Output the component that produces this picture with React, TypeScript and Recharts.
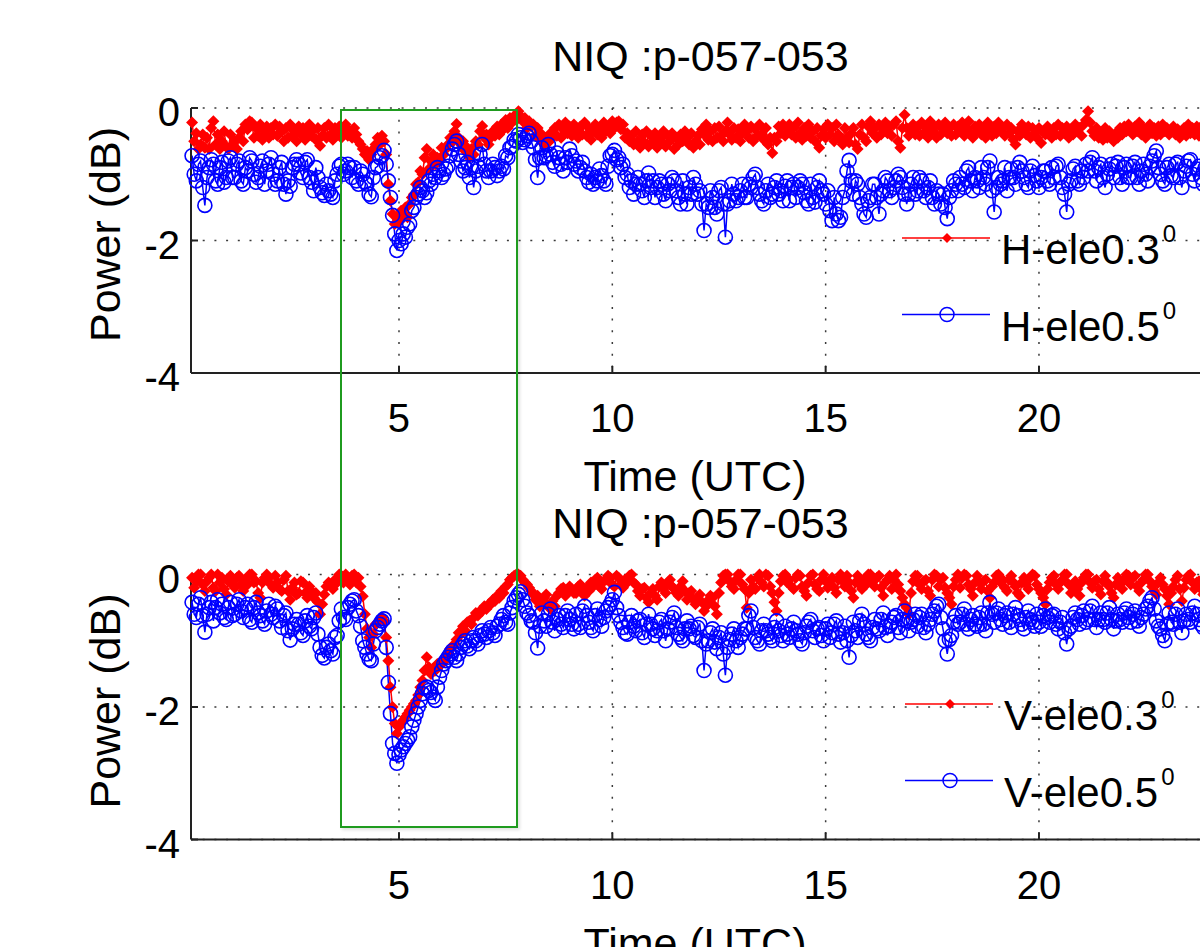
import React from 'react'
import { LineChart, Line, XAxis, YAxis, CartesianGrid, Legend } from 'recharts'

const FONT = '"Liberation Sans", Arial, Helvetica, sans-serif'

// samples every 0.05 h starting at 0.15 h (20 per row = one hour)
const T0 = 0.15
const STEP = 0.05

const H_03 = [
  -0.22, -0.5, -0.38, -0.62, -0.55, -0.4, -0.6, -0.45, -0.62, -0.3, -0.2, -0.55, -0.4, -0.62, -0.5, -0.35, -0.58, -0.62, -0.4, -0.55,
  -0.5, -0.62, -0.45, -0.35, -0.5, -0.25, -0.32, -0.2, -0.22, -0.45, -0.3, -0.42, -0.25, -0.48, -0.35, -0.28, -0.45, -0.3, -0.4, -0.25,
  -0.42, -0.28, -0.35, -0.5, -0.3, -0.45, -0.25, -0.42, -0.35, -0.5, -0.28, -0.4, -0.3, -0.48, -0.38, -0.25, -0.42, -0.33, -0.48, -0.3,
  -0.57, -0.42, -0.3, -0.45, -0.25, -0.4, -0.48, -0.3, -0.4, -0.28, -0.45, -0.32, -0.25, -0.42, -0.35, -0.45, -0.3, -0.4, -0.5, -0.55,
  -0.62, -0.7, -0.65, -0.78, -0.7, -0.62, -0.55, -0.45, -0.55, -0.42, -0.5, -0.7, -1.15, -1.4, -1.6, -1.75, -1.65, -1.72, -1.55, -1.62,
  -1.5, -1.65, -1.45, -1.35, -1.3, -1.15, -1.12, -0.95, -1.0, -0.75, -0.62, -0.92, -0.8, -0.7, -0.85, -0.75, -0.8, -0.6, -0.7, -0.62,
  -0.55, -0.45, -0.5, -0.35, -0.24, -0.45, -0.55, -0.5, -0.65, -0.6, -0.75, -0.62, -0.7, -0.5, -0.55, -0.35, -0.27, -0.45, -0.4, -0.55,
  -0.45, -0.35, -0.42, -0.28, -0.4, -0.25, -0.32, -0.18, -0.3, -0.15, -0.22, -0.12, -0.18, -0.05, -0.12, -0.2, -0.15, -0.3, -0.2, -0.28,
  -0.25, -0.42, -0.3, -0.48, -0.4, -0.55, -0.45, -0.52, -0.38, -0.45, -0.3, -0.42, -0.25, -0.45, -0.32, -0.22, -0.38, -0.28, -0.42, -0.25,
  -0.35, -0.45, -0.28, -0.4, -0.22, -0.42, -0.3, -0.48, -0.35, -0.25, -0.4, -0.3, -0.45, -0.22, -0.35, -0.28, -0.38, -0.2, -0.3, -0.22,
  -0.2, -0.32, -0.25, -0.45, -0.38, -0.5, -0.42, -0.55, -0.35, -0.5, -0.6, -0.4, -0.52, -0.35, -0.58, -0.42, -0.5, -0.38, -0.6, -0.45,
  -0.5, -0.35, -0.58, -0.42, -0.5, -0.38, -0.62, -0.45, -0.55, -0.4, -0.5, -0.35, -0.45, -0.55, -0.38, -0.6, -0.5, -0.42, -0.55, -0.32,
  -0.4, -0.25, -0.48, -0.35, -0.5, -0.3, -0.45, -0.28, -0.42, -0.5, -0.35, -0.22, -0.4, -0.48, -0.3, -0.45, -0.32, -0.5, -0.38, -0.25,
  -0.35, -0.45, -0.28, -0.5, -0.32, -0.42, -0.25, -0.4, -0.48, -0.3, -0.55, -0.45, -0.68, -0.45, -0.5, -0.28, -0.38, -0.25, -0.42, -0.3,
  -0.25, -0.4, -0.3, -0.45, -0.22, -0.38, -0.48, -0.3, -0.42, -0.25, -0.45, -0.35, -0.5, -0.3, -0.6, -0.42, -0.32, -0.45, -0.25, -0.4,
  -0.3, -0.5, -0.25, -0.4, -0.48, -0.55, -0.3, -0.45, -0.52, -0.38, -0.3, -0.55, -0.62, -0.4, -0.25, -0.45, -0.5, -0.28, -0.2, -0.38,
  -0.3, -0.45, -0.25, -0.4, -0.32, -0.22, -0.38, -0.28, -0.42, -0.25, -0.2, -0.5, -0.6, -0.3, -0.1, -0.3, -0.42, -0.35, -0.25, -0.4,
  -0.28, -0.42, -0.22, -0.38, -0.3, -0.45, -0.2, -0.35, -0.28, -0.45, -0.25, -0.4, -0.32, -0.22, -0.38, -0.3, -0.42, -0.25, -0.4, -0.28,
  -0.35, -0.22, -0.42, -0.3, -0.2, -0.38, -0.45, -0.28, -0.35, -0.25, -0.4, -0.3, -0.45, -0.22, -0.35, -0.42, -0.28, -0.38, -0.22, -0.32,
  -0.3, -0.42, -0.25, -0.38, -0.3, -0.48, -0.55, -0.35, -0.42, -0.25, -0.32, -0.4, -0.28, -0.45, -0.3, -0.38, -0.45, -0.3, -0.53, -0.35,
  -0.4, -0.28, -0.35, -0.45, -0.3, -0.4, -0.25, -0.42, -0.3, -0.38, -0.28, -0.45, -0.32, -0.4, -0.25, -0.35, -0.3, -0.42, -0.25, -0.18,
  -0.05, -0.22, -0.35, -0.42, -0.3, -0.45, -0.38, -0.48, -0.3, -0.45, -0.35, -0.4, -0.5, -0.38, -0.45, -0.3, -0.4, -0.28, -0.35, -0.25,
  -0.32, -0.4, -0.28, -0.35, -0.22, -0.4, -0.3, -0.45, -0.35, -0.25, -0.38, -0.3, -0.42, -0.28, -0.4, -0.25, -0.35, -0.3, -0.4, -0.32,
  -0.28, -0.4, -0.32, -0.45, -0.38, -0.3, -0.42, -0.25, -0.38, -0.3, -0.4, -0.28, -0.42, -0.3, -0.25, -0.38, -0.3, -0.42, -0.28, -0.35,
]

const H_05 = [
  -0.72, -1.0, -1.1, -0.85, -0.8, -1.2, -1.47, -1.05, -0.9, -0.78, -0.85, -1.1, -1.15, -0.9, -0.82, -1.12, -1.05, -0.8, -0.75, -1.05,
  -1.05, -0.85, -0.8, -1.1, -1.15, -0.9, -0.95, -0.75, -0.8, -1.0, -1.12, -1.05, -0.88, -0.8, -1.15, -0.95, -0.85, -0.75, -1.0, -1.15,
  -1.1, -0.9, -0.82, -1.15, -1.3, -1.1, -1.18, -0.9, -0.85, -0.78, -0.85, -0.98, -1.05, -0.82, -0.78, -1.05, -1.12, -1.25, -0.9, -1.05,
  -1.2, -1.28, -1.32, -1.15, -1.25, -1.3, -1.35, -1.1, -1.0, -0.88, -0.85, -1.0, -0.95, -0.85, -0.9, -1.05, -0.9, -1.1, -1.15, -0.95,
  -1.0, -1.12, -1.15, -1.3, -1.34, -1.05, -0.9, -0.88, -0.75, -0.72, -0.64, -0.85, -1.1, -1.35, -1.62, -1.9, -2.15, -2.0, -2.05, -1.9,
  -1.95, -1.8, -1.75, -1.55, -1.5, -1.35, -1.3, -1.2, -1.25, -1.35, -1.28, -1.1, -1.15, -1.0, -1.05, -0.9, -0.95, -1.05, -1.0, -0.92,
  -0.88, -0.72, -0.62, -0.55, -0.5, -0.7, -0.8, -0.95, -0.9, -0.82, -1.05, -0.9, -1.2, -0.95, -0.88, -0.7, -0.55, -0.85, -0.95, -1.05,
  -0.95, -0.85, -0.9, -1.02, -0.95, -0.88, -0.92, -0.72, -0.75, -0.6, -0.58, -0.48, -0.5, -0.4, -0.45, -0.52, -0.48, -0.42, -0.38, -0.5,
  -0.6, -0.78, -1.05, -0.75, -0.6, -0.75, -0.72, -0.55, -0.7, -0.82, -0.88, -0.68, -0.75, -0.85, -0.95, -0.75, -0.82, -0.62, -0.72, -0.85,
  -0.8, -0.95, -0.9, -0.82, -0.95, -1.05, -1.12, -1.0, -1.15, -1.05, -1.1, -0.92, -1.02, -1.1, -1.15, -0.88, -0.72, -0.7, -0.64, -0.78,
  -0.75, -0.9, -0.85, -1.05, -1.0, -1.2, -1.1, -1.3, -1.15, -1.05, -1.15, -1.25, -1.35, -1.1, -0.98, -1.2, -1.1, -1.35, -1.2, -1.1,
  -1.15, -1.3, -1.4, -1.15, -1.25, -1.05, -1.1, -1.25, -1.35, -1.45, -1.1, -1.3, -1.45, -1.2, -1.3, -1.05, -1.15, -1.3, -1.25, -1.45,
  -1.85, -1.45, -1.5, -1.25, -1.35, -1.5, -1.6, -1.25, -1.2, -1.45, -1.95, -1.45, -1.4, -1.15, -1.3, -1.4, -1.35, -1.25, -1.15, -1.35,
  -1.35, -1.15, -1.2, -1.05, -1.0, -1.2, -1.3, -1.4, -1.45, -1.25, -1.15, -1.35, -1.3, -1.2, -1.1, -1.3, -1.25, -1.4, -1.18, -1.1,
  -1.4, -1.2, -1.15, -1.35, -1.2, -1.1, -1.15, -1.28, -1.4, -1.45, -1.15, -1.35, -1.42, -1.2, -1.1, -1.25, -1.3, -1.45, -1.25, -1.55,
  -1.7, -1.35, -1.6, -1.7, -1.65, -1.35, -1.25, -0.95, -0.79, -1.1, -1.3, -1.1, -1.15, -1.35, -1.45, -1.6, -1.65, -1.4, -1.35, -1.15,
  -1.15, -1.35, -1.6, -1.3, -1.25, -1.05, -1.1, -1.25, -1.35, -1.2, -1.1, -1.0, -1.05, -1.2, -1.3, -1.45, -1.3, -1.15, -1.05, -1.3,
  -1.25, -1.05, -1.1, -1.25, -1.35, -1.2, -1.1, -1.35, -1.45, -1.25, -1.3, -1.45, -1.3, -1.5, -1.67, -1.35, -1.25, -1.1, -1.15, -1.25,
  -1.05, -1.15, -1.2, -0.95, -0.9, -1.1, -1.25, -1.05, -1.1, -1.2, -0.9, -1.05, -1.15, -0.9, -0.8, -1.25, -1.57, -1.2, -1.05, -1.15,
  -1.1, -0.9, -1.25, -1.05, -0.92, -1.05, -1.15, -0.9, -0.82, -0.95, -1.05, -1.15, -1.2, -0.95, -0.88, -1.02, -1.1, -1.2, -1.05, -0.95,
  -0.95, -1.1, -1.15, -0.9, -1.05, -0.88, -0.85, -1.05, -1.2, -1.3, -1.57, -1.15, -1.1, -0.92, -0.88, -1.1, -1.15, -0.95, -1.05, -0.85,
  -0.95, -0.82, -0.75, -0.95, -1.1, -0.9, -0.85, -1.05, -1.2, -1.0, -0.92, -0.85, -1.05, -0.88, -0.82, -1.05, -1.15, -0.9, -0.85, -1.05,
  -1.05, -0.88, -0.82, -1.05, -1.15, -0.95, -0.85, -1.0, -1.1, -0.88, -0.8, -0.72, -0.65, -0.9, -1.0, -1.1, -1.15, -0.9, -0.85, -1.02,
  -1.05, -0.85, -0.82, -1.05, -1.2, -0.95, -0.88, -0.8, -0.78, -1.0, -1.1, -0.92, -0.88, -1.05, -1.15, -0.9, -0.82, -0.95, -0.9, -1.1,
]

const V_03 = [
  -0.05, -0.2, -0.1, 0, 0, -0.15, -0.25, -0.1, -0.05, 0, -0.2, -0.25, 0, -0.12, -0.05, -0.22, -0.3, -0.1, -0.02, -0.15,
  -0.2, -0.05, -0.02, -0.15, -0.25, -0.08, -0.15, 0, 0, -0.12, -0.1, -0.28, -0.35, -0.12, -0.05, 0, -0.05, -0.15, -0.2, -0.02,
  -0.12, -0.22, -0.25, -0.08, -0.02, -0.25, -0.38, -0.2, -0.12, -0.3, -0.28, -0.1, -0.12, -0.28, -0.35, -0.18, -0.25, -0.35, -0.28, -0.42,
  -0.6, -0.45, -0.3, -0.18, -0.12, -0.15, -0.22, -0.08, -0.12, 0, -0.02, -0.12, 0, -0.05, -0.15, -0.02, 0, -0.12, -0.05, -0.18,
  -0.33, -0.6, -0.82, -0.95, -1.1, -0.9, -0.75, -0.72, -0.68, -0.65, -0.7, -0.95, -1.3, -1.7, -2.0, -2.25, -2.4, -2.3, -2.25, -2.2,
  -2.15, -2.1, -2.05, -2.0, -1.95, -1.9, -1.82, -1.7, -1.6, -1.45, -1.25, -1.4, -1.5, -1.42, -1.45, -1.35, -1.38, -1.3, -1.32, -1.25,
  -1.2, -1.12, -1.1, -1.05, -0.98, -0.88, -0.9, -0.78, -0.85, -0.72, -0.7, -0.75, -0.65, -0.58, -0.62, -0.55, -0.55, -0.48, -0.52, -0.45,
  -0.45, -0.38, -0.4, -0.32, -0.35, -0.25, -0.28, -0.18, -0.15, -0.08, -0.05, -0.02, 0, 0, -0.02, -0.08, -0.12, -0.15, -0.2, -0.25,
  -0.3, -0.38, -0.32, -0.48, -0.4, -0.35, -0.3, -0.48, -0.52, -0.4, -0.48, -0.32, -0.28, -0.22, -0.2, -0.32, -0.25, -0.18, -0.22, -0.28,
  -0.28, -0.18, -0.15, -0.28, -0.32, -0.2, -0.25, -0.12, -0.18, -0.08, -0.05, -0.18, -0.22, -0.1, -0.08, -0.02, -0.05, -0.15, -0.18, -0.02,
  -0.05, -0.15, -0.2, -0.08, -0.12, -0.02, 0, -0.12, -0.15, -0.25, -0.32, -0.22, -0.2, -0.35, -0.42, -0.28, -0.22, -0.32, -0.38, -0.18,
  -0.12, -0.22, -0.28, -0.12, -0.08, -0.18, -0.22, -0.28, -0.32, -0.18, -0.1, -0.25, -0.38, -0.28, -0.25, -0.38, -0.45, -0.35, -0.3, -0.42,
  -0.55, -0.42, -0.45, -0.32, -0.35, -0.48, -0.6, -0.28, -0.12, -0.02, 0, 0, -0.1, -0.18, -0.22, -0.08, 0, 0, -0.15, -0.22,
  -0.5, -0.28, -0.08, -0.18, -0.22, -0.05, 0, -0.12, -0.18, 0, -0.02, -0.18, -0.28, -0.42, -0.55, -0.28, -0.1, -0.02, 0, -0.12,
  -0.08, -0.18, -0.22, -0.05, 0, -0.02, -0.18, -0.25, -0.32, -0.12, -0.02, 0, -0.15, -0.22, -0.25, -0.08, 0, -0.1, -0.2, -0.1,
  -0.05, -0.2, -0.28, -0.08, 0, -0.1, -0.18, -0.02, -0.12, -0.25, -0.35, -0.12, -0.02, -0.15, -0.22, -0.08, -0.15, 0, 0, -0.1,
  -0.18, -0.05, -0.02, -0.2, -0.32, -0.12, -0.08, -0.02, -0.22, -0.08, 0, -0.15, -0.25, -0.35, -0.45, -0.5, -0.6, -0.28, -0.1, -0.02,
  -0.02, -0.15, -0.22, -0.1, -0.08, -0.25, -0.32, -0.08, 0, -0.02, -0.18, -0.08, -0.05, -0.2, -0.28, -0.35, -0.45, -0.18, -0.08, 0,
  -0.2, -0.05, 0, -0.02, -0.15, -0.22, -0.32, -0.12, -0.02, -0.12, -0.22, -0.1, -0.08, -0.25, -0.35, -0.18, -0.12, -0.02, 0, -0.12,
  -0.08, -0.2, -0.25, -0.08, -0.02, -0.12, -0.18, -0.28, -0.32, -0.12, -0.05, -0.15, -0.22, -0.05, 0, -0.02, -0.15, -0.22, -0.28, -0.35,
  -0.45, -0.22, -0.12, -0.05, -0.02, -0.15, -0.22, -0.12, -0.08, 0, 0, -0.15, -0.28, -0.15, -0.1, -0.22, -0.32, -0.12, -0.05, 0,
  0, -0.12, -0.2, -0.1, -0.08, -0.22, -0.3, -0.1, -0.02, -0.12, -0.18, -0.28, -0.35, -0.15, -0.05, -0.15, -0.22, -0.08, 0, -0.02,
  -0.15, -0.05, -0.02, -0.18, -0.25, -0.12, -0.08, 0, 0, -0.1, -0.18, -0.25, -0.3, -0.12, -0.05, -0.15, -0.22, -0.32, -0.45, -0.28,
  -0.18, -0.08, -0.02, -0.22, -0.4, -0.2, -0.08, -0.02, 0, -0.12, -0.22, -0.12, -0.1, -0.22, -0.3, -0.12, -0.02, -0.12, -0.18, -0.05,
]

const V_05 = [
  -0.42, -0.6, -0.65, -0.45, -0.35, -0.62, -0.87, -0.6, -0.5, -0.42, -0.7, -0.5, -0.38, -0.58, -0.45, -0.65, -0.68, -0.5, -0.42, -0.62,
  -0.6, -0.45, -0.38, -0.55, -0.65, -0.5, -0.45, -0.68, -0.72, -0.5, -0.42, -0.58, -0.62, -0.7, -0.75, -0.55, -0.45, -0.6, -0.65, -0.48,
  -0.52, -0.7, -0.8, -0.62, -0.58, -0.85, -0.99, -0.82, -0.75, -0.68, -0.75, -0.88, -0.92, -0.7, -0.62, -0.78, -0.82, -0.65, -0.58, -0.9,
  -1.1, -1.22, -1.26, -1.1, -1.05, -1.15, -1.2, -0.95, -0.92, -0.7, -0.52, -0.65, -0.68, -0.5, -0.45, -0.4, -0.38, -0.55, -0.62, -0.78,
  -1.0, -1.1, -1.2, -1.28, -1.3, -1.05, -0.85, -0.8, -0.75, -0.7, -0.67, -1.1, -1.63, -2.1, -2.55, -2.7, -2.85, -2.72, -2.65, -2.6,
  -2.55, -2.5, -2.45, -2.3, -2.2, -2.1, -2.0, -1.9, -1.8, -1.72, -1.7, -1.75, -1.78, -1.85, -1.9, -1.7, -1.55, -1.45, -1.35, -1.3,
  -1.25, -1.2, -1.15, -1.25, -1.3, -1.2, -1.1, -1.05, -1.0, -1.08, -1.12, -1.0, -0.95, -1.0, -1.05, -0.92, -0.85, -0.9, -0.95, -0.85,
  -0.8, -0.88, -0.92, -0.78, -0.75, -0.68, -0.62, -0.72, -0.75, -0.58, -0.5, -0.4, -0.35, -0.3, -0.26, -0.38, -0.48, -0.58, -0.62, -0.7,
  -0.72, -0.88, -1.11, -0.78, -0.58, -0.7, -0.78, -0.6, -0.52, -0.72, -0.85, -0.68, -0.62, -0.75, -0.8, -0.62, -0.55, -0.68, -0.75, -0.82,
  -0.6, -0.75, -0.8, -0.55, -0.48, -0.62, -0.72, -0.8, -0.85, -0.62, -0.52, -0.68, -0.78, -0.65, -0.55, -0.5, -0.45, -0.38, -0.27, -0.5,
  -0.62, -0.72, -0.8, -0.88, -0.9, -0.72, -0.62, -0.78, -0.85, -0.7, -0.68, -0.88, -0.95, -0.75, -0.6, -0.75, -0.82, -0.92, -0.85, -0.72,
  -0.68, -0.85, -1.0, -0.82, -0.72, -0.65, -0.58, -0.8, -0.9, -0.95, -1.0, -0.82, -0.7, -0.82, -0.78, -0.92, -0.95, -0.8, -0.75, -1.0,
  -1.45, -1.05, -1.0, -0.88, -0.82, -1.02, -1.12, -0.95, -0.88, -1.2, -1.52, -1.1, -0.98, -0.9, -0.82, -1.0, -1.1, -0.95, -0.9, -0.82,
  -0.82, -0.62, -0.55, -0.8, -0.95, -1.0, -1.05, -0.85, -0.75, -0.85, -0.9, -0.95, -1.0, -0.8, -0.7, -0.85, -0.92, -1.0, -0.78, -0.9,
  -0.95, -0.82, -0.72, -0.85, -0.9, -1.0, -1.05, -0.88, -0.78, -0.72, -0.68, -0.85, -0.95, -0.82, -0.8, -0.92, -1.0, -0.82, -0.75, -0.95,
  -0.88, -0.75, -0.7, -0.9, -1.02, -0.88, -0.78, -1.0, -1.25, -0.92, -0.72, -0.85, -0.95, -0.7, -0.6, -0.75, -0.9, -0.95, -1.0, -0.8,
  -0.68, -0.82, -0.85, -0.68, -0.58, -0.8, -0.92, -0.78, -0.72, -0.65, -0.62, -0.8, -0.88, -0.68, -0.55, -0.7, -0.85, -0.72, -0.68, -0.6,
  -0.78, -0.65, -0.6, -0.8, -0.88, -0.75, -0.68, -0.6, -0.55, -0.48, -0.45, -0.65, -0.82, -1.0, -1.2, -0.98, -0.92, -0.72, -0.62, -0.75,
  -0.72, -0.6, -0.52, -0.75, -0.82, -0.68, -0.62, -0.75, -0.78, -0.65, -0.58, -0.75, -0.85, -0.58, -0.42, -0.6, -0.72, -0.58, -0.52, -0.68,
  -0.75, -0.62, -0.58, -0.72, -0.8, -0.6, -0.5, -0.62, -0.68, -0.75, -0.82, -0.65, -0.55, -0.68, -0.72, -0.78, -0.6, -0.72, -0.78, -0.62,
  -0.52, -0.65, -0.72, -0.62, -0.6, -0.75, -0.82, -0.72, -0.65, -0.88, -1.05, -0.82, -0.78, -0.65, -0.58, -0.68, -0.75, -0.62, -0.55, -0.72,
  -0.68, -0.55, -0.48, -0.68, -0.8, -0.68, -0.58, -0.68, -0.72, -0.58, -0.5, -0.68, -0.82, -0.7, -0.6, -0.68, -0.72, -0.58, -0.52, -0.65,
  -0.72, -0.6, -0.55, -0.7, -0.78, -0.65, -0.6, -0.52, -0.48, -0.4, -0.35, -0.52, -0.7, -0.78, -0.82, -0.92, -1.0, -0.75, -0.58, -0.72,
  -0.75, -0.6, -0.52, -0.72, -0.88, -0.7, -0.6, -0.68, -0.72, -0.58, -0.48, -0.6, -0.68, -0.75, -0.8, -0.65, -0.58, -0.68, -0.7, -0.58,
]

const TIME = H_03.map((_, i) => +(T0 + i * STEP).toFixed(2))
const X_TICKS = [5, 10, 15, 20]
const Y_TICKS = [-4, -2, 0]
const X_DOMAIN = [0.125, 24.1]
const TITLE = 'NIQ :p-057-053'

const RED = '#ff0000'
const BLUE = '#0000ff'
const AXIS = '#222'

const XTick = ({ x, y, payload }: any) => (
  <text x={x} y={y} dy="0.71em" textAnchor="middle" fontSize={40} fontFamily={FONT} fill="#000">
    {payload.value}
  </text>
)

const YTick = ({ x, y, payload }: any) => (
  <text x={x} y={y + 18} textAnchor="end" fontSize={40} fontFamily={FONT} fill="#000">
    {payload.value}
  </text>
)

const NoTick = () => <g />

const diamond = (cx: number, cy: number, r: number) =>
  `M${cx},${cy - r}L${cx + r},${cy}L${cx},${cy + r}L${cx - r},${cy}Z`

const redDot = (p: any) => <path key={`r${p.index}`} d={diamond(p.cx, p.cy, 6)} fill={RED} />
const blueDot = (p: any) => (
  <circle key={`b${p.index}`} cx={p.cx} cy={p.cy} r={7} fill="none" stroke={BLUE} strokeWidth={1.6} />
)

function legendFor(shift: number) {
  return ({ payload }: any) => (
    <svg width={1230} height={420} style={{ position: 'absolute', left: 0, top: 0, overflow: 'visible', pointerEvents: 'none' }}>
      {(payload || []).map((p: any, i: number) => {
        const ly = 238 + i * 76.5
        const x1 = 902 + shift
        const mx = x1 + 45
        return (
          <g key={p.value}>
            <line x1={x1} x2={x1 + 88} y1={ly} y2={ly} stroke={p.color} strokeWidth={1.5} />
            {i === 0 ? (
              <path d={diamond(mx, ly, 5)} fill={p.color} />
            ) : (
              <circle cx={mx} cy={ly} r={7} fill="none" stroke={p.color} strokeWidth={1.5} />
            )}
            <text x={x1 + 99} y={ly + 26} fontSize={42} fontFamily={FONT} fill="#000">
              {p.value}
              <tspan dx={3} dy={-22} fontSize={24}>0</tspan>
            </text>
          </g>
        )
      })}
    </svg>
  )
}

function Panel({ data, names, height, top, shift }: any) {
  const xh = height - top - 265
  return (
    <LineChart width={1230} height={height} data={data} margin={{ top, right: 16.1, bottom: 0, left: 0 }}>
      <CartesianGrid stroke="#3a3a3a" strokeWidth={1.5} strokeDasharray="2 9.7" />
      <XAxis
        dataKey="t"
        type="number"
        domain={X_DOMAIN}
        ticks={X_TICKS}
        height={xh}
        tick={XTick}
        tickSize={-7}
        tickMargin={38}
        stroke={AXIS}
        strokeWidth={2}
      />
      <XAxis
        xAxisId="top"
        orientation="top"
        dataKey="t"
        type="number"
        domain={X_DOMAIN}
        ticks={X_TICKS}
        height={0}
        tick={NoTick}
        tickSize={-7}
        stroke={AXIS}
        strokeWidth={2}
      />
      <YAxis
        type="number"
        domain={[-4, 0]}
        ticks={Y_TICKS}
        width={191}
        tick={YTick}
        tickSize={-7}
        tickMargin={18}
        stroke={AXIS}
        strokeWidth={2}
      />
      <Legend content={legendFor(shift)} wrapperStyle={{ left: 0, top: 0, width: 1230, height: 0 }} />
      <Line dataKey="a" name={names[0]} type="linear" stroke={RED} strokeWidth={1.5} dot={redDot} activeDot={false} isAnimationActive={false} />
      <Line dataKey="b" name={names[1]} type="linear" stroke={BLUE} strokeWidth={1.5} dot={blueDot} activeDot={false} isAnimationActive={false} />
    </LineChart>
  )
}

export default function App() {
  const hData = TIME.map((t, i) => ({ t, a: H_03[i], b: H_05[i] }))
  const vData = TIME.map((t, i) => ({ t, a: V_03[i], b: V_05[i] }))
  const txt = { fontSize: 43, fontFamily: FONT, fill: '#000' }
  return (
    <div style={{ position: 'absolute', left: 0, top: 0, width: 1200, height: 947, overflow: 'hidden', background: '#fff' }}>
      <svg width={1200} height={947} style={{ position: 'absolute', left: 0, top: 0 }}>
        {[0, 466.5].map((off) => (
          <g key={off}>
            <text x={700.5} y={71 + off} textAnchor="middle" {...txt}>{TITLE}</text>
            <text x={695} y={491 + off} textAnchor="middle" {...txt}>Time (UTC)</text>
            <text transform={`translate(120, ${234.5 + off}) rotate(-90)`} textAnchor="middle" {...txt}>Power (dB)</text>
          </g>
        ))}
      </svg>
      <div style={{ position: 'absolute', left: 0, top: 0 }}>
        <Panel data={hData} names={['H-ele0.3', 'H-ele0.5']} height={465} top={108} shift={0} />
      </div>
      <div style={{ position: 'absolute', left: 0, top: 466 }}>
        <Panel data={vData} names={['V-ele0.3', 'V-ele0.5']} height={481} top={108.5} shift={3} />
      </div>
      <div
        style={{
          position: 'absolute',
          left: 340,
          top: 109,
          width: 178,
          height: 719,
          border: '2px solid #1f9b1f',
          boxSizing: 'border-box',
          boxShadow: '2px 2px 3px rgba(0,0,0,0.12)',
          pointerEvents: 'none',
        }}
      />
    </div>
  )
}
